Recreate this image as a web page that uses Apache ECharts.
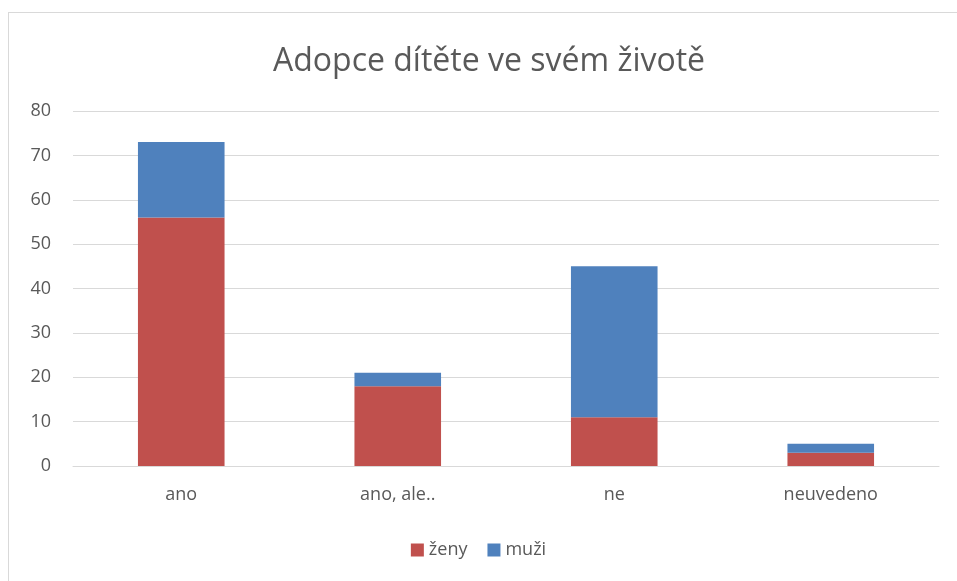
<!DOCTYPE html>
<html>
<head>
<meta charset="utf-8">
<script src="https://cdn.jsdelivr.net/npm/echarts@6/dist/echarts.min.js"></script>
<style>
  html, body { margin: 0; padding: 0; background: #fff; overflow: hidden; }
  #frame { position: absolute; left: 8px; top: 12px; width: 1000px; height: 1000px; border: 1px solid #d9d9d9; box-sizing: border-box; }
  #chart { position: absolute; left: 0; top: 0; width: 957px; height: 581px; }
</style>
</head>
<body>
<div id="frame"></div>
<div id="chart"></div>
<script>
var categories = ['ano', 'ano, ale..', 'ne', 'neuvedeno'];
var zenyValues = [56, 18, 11, 3];
var muziValues = [17, 3, 34, 2];
var yTicks = [0, 10, 20, 30, 40, 50, 60, 70, 80];

var chartDom = document.getElementById('chart');
var chart = echarts.init(chartDom, null, { renderer: 'canvas' });

var font = '"Open Sans", "DejaVu Sans", sans-serif';

var option = {
    animation: false,
    title: {
        text: 'Adopce dítěte ve svém životě',
        left: 268,
        top: 41,
        textStyle: { fontFamily: font, fontSize: 32, fontWeight: 'normal', color: '#595959' }
    },
    legend: {
        bottom: 17,
        left: 'center',
        itemWidth: 13,
        itemHeight: 13,
        itemGap: 20,
        icon: 'rect',
        textStyle: { fontFamily: font, fontSize: 18, color: '#595959' },
        data: ['ženy', 'muži']
    },
    grid: { left: 73, right: 18, top: 111, bottom: 115 },
    xAxis: {
        type: 'category',
        data: categories,
        axisLine: { show: true, lineStyle: { color: '#d9d9d9', width: 1 } },
        axisTick: { show: false },
        axisLabel: { fontFamily: font, fontSize: 18, color: '#595959', margin: 20 }
    },
    yAxis: {
        type: 'value',
        min: yTicks[0],
        max: yTicks[yTicks.length - 1],
        interval: 10,
        axisLine: { show: false },
        axisTick: { show: false },
        axisLabel: { fontFamily: font, fontSize: 18, color: '#595959', margin: 22 },
        splitLine: { lineStyle: { color: '#d9d9d9', width: 1 } }
    },
    series: [
        {
            name: 'ženy',
            type: 'bar',
            stack: 'total',
            barWidth: '40%',
            itemStyle: { color: '#C0504D' },
            data: zenyValues
        },
        {
            name: 'muži',
            type: 'bar',
            stack: 'total',
            barWidth: '40%',
            itemStyle: { color: '#4F81BD' },
            data: muziValues
        }
    ]
};

option && chart.setOption(option);
</script>
</body>
</html>
